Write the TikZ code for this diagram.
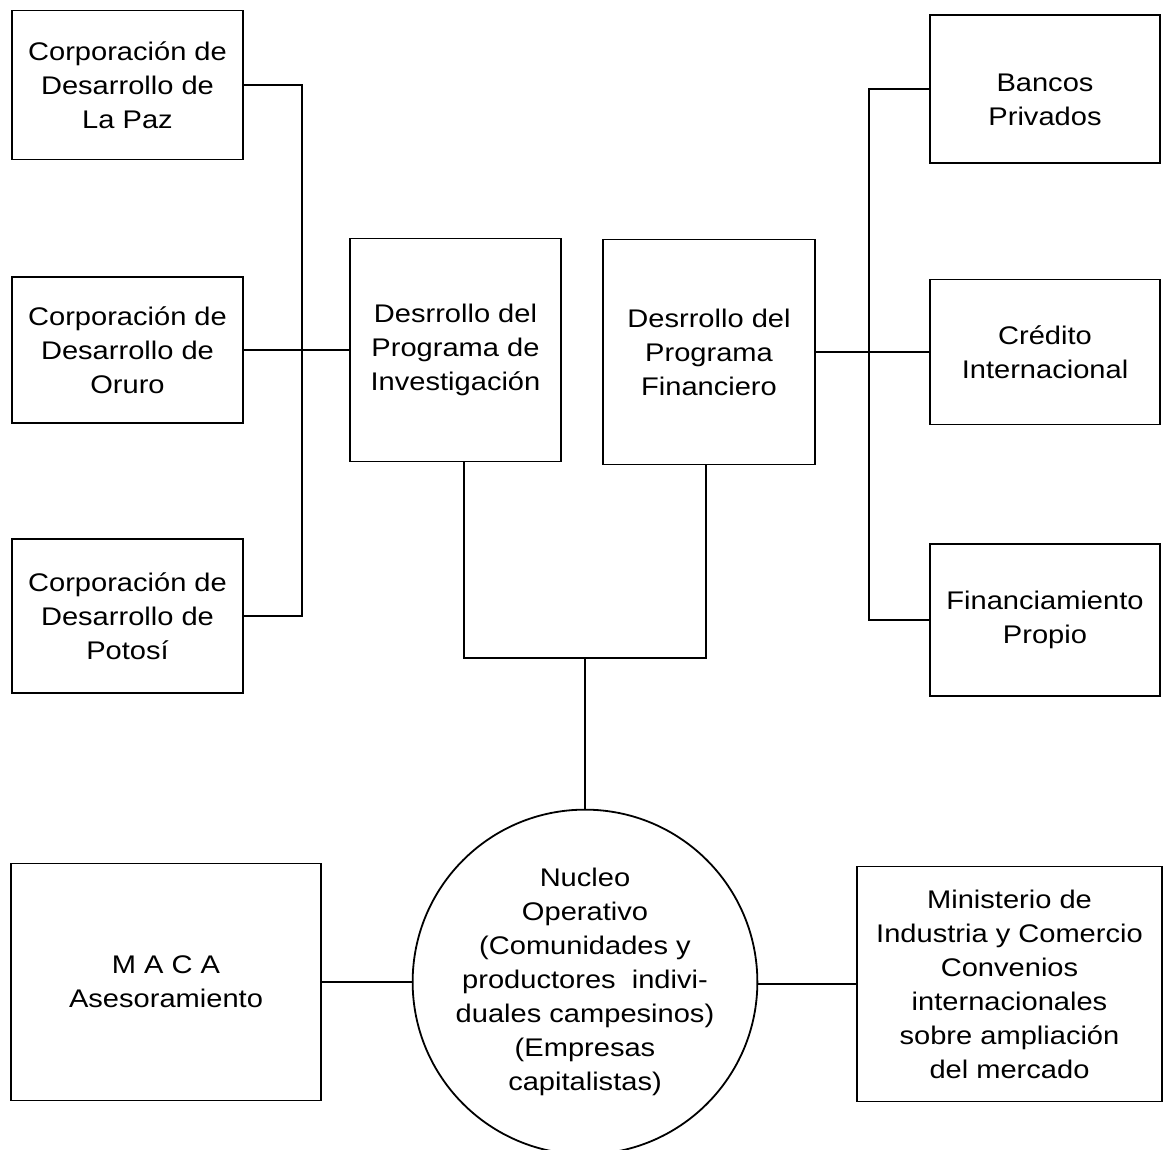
\documentclass[tikz,border=0pt]{standalone}
\usepackage{fontspec}
\setmainfont{Liberation Sans}[FakeStretch=1.14]
\begin{document}
\begin{tikzpicture}[x=1pt,y=-1pt,
  box/.style={draw,line width=1.8pt,inner sep=0pt,align=center,font=\fontsize{25.5}{34}\selectfont},
  link/.style={draw,line width=1.9pt}]
\useasboundingbox (0,0) rectangle (1170,1150);
% left column
\node[box,minimum width=231,minimum height=149] (L1) at (127.5,85) {Corporación de\\Desarrollo de\\La Paz};
\node[box,minimum width=231,minimum height=146] (L2) at (127.5,350) {Corporación de\\Desarrollo de\\Oruro};
\node[box,minimum width=231,minimum height=154] (L3) at (127.5,616) {Corporación de\\Desarrollo de\\Potosí};
% centre boxes
\node[box,minimum width=211,minimum height=223] (C1) at (455.5,350) {Desrrollo del\\Programa de\\Investigación};
\node[box,minimum width=212,minimum height=225] (C2) at (709,352) {Desrrollo del\\Programa\\Financiero};
% right column
\node[box,minimum width=230,minimum height=148] (R1) at (1045,89) {\rule{0pt}{40pt}Bancos\\Privados};
\node[box,minimum width=230,minimum height=145] (R2) at (1045,352) {Crédito\\Internacional};
\node[box,minimum width=230,minimum height=152] (R3) at (1045,620) {Financiamiento\\Propio};
% bottom row
\node[box,circle,minimum size=338] (N) at (585,982) {Nucleo\\Operativo\\(Comunidades y\\productores~ indivi-\\duales campesinos)\\(Empresas\\capitalistas)};
\node[box,minimum width=310,minimum height=237] (M) at (166,982) {M A C A\\Asesoramiento};
\node[box,minimum width=305,minimum height=235] (Min) at (1009.5,984) {Ministerio de\\Industria y Comercio\\Convenios\\internacionales\\sobre ampliación\\del mercado};
% connectors
\coordinate (lb) at (302,616);
\coordinate (rb) at (869,620);
\coordinate (jl) at (464,658);
\coordinate (jr) at (706,658);
\coordinate (jm) at (585,658);
\draw[link] (L1.east) -| (lb) -- (L3.east);
\draw[link] (L2.east) -- (C1.west);
\draw[link] (R1.west) -| (rb) -- (R3.west);
\draw[link] (C2.east) -- (R2.west);
\draw[link] (C1.south -| jl) -- (jl) -- (jr) -- (C2.south -| jr);
\draw[link] (jm) -- (N.north);
\draw[link] (M.east) -- (N.west);
\draw[link] (Min.west) -- (Min.west -| N.east);
\end{tikzpicture}
\end{document}
